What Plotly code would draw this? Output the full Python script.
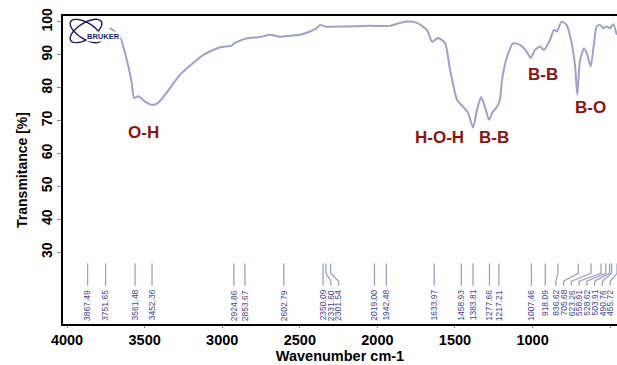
import numpy as np
import plotly.graph_objects as go

# ---------------- data ----------------
wavenumber = [3725, 3700, 3659, 3615, 3583, 3568, 3542, 3497, 3454, 3413, 3358, 3272, 3188,
              3122, 3014, 2939, 2924, 2842, 2756, 2692, 2628, 2563, 2499, 2434, 2391, 2370,
              2338, 2222, 2048, 1919, 1855, 1803, 1745, 1680, 1648, 1609, 1564, 1532, 1487,
              1448, 1416, 1384, 1358, 1332, 1307, 1281, 1255, 1229, 1210, 1197, 1167, 1126,
              1081, 1038, 1012, 985, 952, 927, 888, 862, 843, 813, 781, 755, 727, 712, 695,
              669, 647, 626, 605, 587, 566, 544, 522, 501, 480, 458]
transmittance = [98.1, 97.4, 95.5, 88.5, 81.4, 76.9, 77.4, 75.8, 74.8, 75.4, 78.5, 84.0, 87.5,
                 90.0, 92.3, 92.8, 93.5, 95.0, 95.4, 96.1, 95.5, 95.8, 96.1, 97.1, 98.1, 99.1,
                 98.6, 98.6, 98.8, 98.8, 99.7, 100.1, 99.7, 97.5, 94.0, 95.1, 93.6, 85.5, 76.4,
                 74.2, 72.4, 67.9, 73.3, 77.2, 74.2, 70.3, 72.8, 74.2, 76.5, 82.4, 89.0, 93.5,
                 93.0, 91.0, 89.0, 91.5, 92.5, 91.5, 94.5, 97.6, 97.1, 100.1, 99.1, 95.0, 87.0,
                 77.9, 88.0, 92.0, 90.0, 86.5, 93.0, 98.6, 99.1, 98.1, 98.6, 98.1, 99.3, 96.1]

peaks = [3867.49, 3751.65, 3561.48, 3452.36, 2924.86, 2853.67, 2602.79, 2350.09, 2331.60,
         2301.54, 2019.00, 1942.48, 1633.97, 1458.93, 1383.81, 1277.66, 1217.21, 1007.46,
         918.09, 836.62, 705.68, 623.26, 558.91, 528.62, 503.91, 490.76, 455.72]

band_labels = ["O-H", "H-O-H", "B-B", "B-B", "B-O"]
band_x = [3510, 1597, 1249, 933, 628]
band_y = [66.4, 64.8, 64.8, 83.9, 73.9]

x_ticks = [4000, 3500, 3000, 2500, 2000, 1500, 1000, 500]
y_ticks = [30, 40, 50, 60, 70, 80, 90, 100]

# ---------------- layout geometry ----------------
W, H = 617, 365
ML, MT, MB, MR = 63, 16, 41, 0
XR = [4026, 456]
YR = [8.2, 101.8]
FONT = "Arial, Liberation Sans, sans-serif"
CURVE = "#a0a0c8"

fig = go.Figure()
fig.add_trace(go.Scatter(x=wavenumber, y=transmittance, mode="lines",
                         line=dict(color=CURVE, width=2, shape="spline", smoothing=0.6),
                         hoverinfo="skip", showlegend=False))

# ---- peak table: spread labels so they do not overlap ----
gap, right_bound = 50, 500
pk = sorted(peaks, reverse=True)
pos = []
for i, p in enumerate(pk):
    pos.append(p if i == 0 else min(p, pos[-1] - gap))
pos[-1] = max(pos[-1], right_bound)
for i in range(len(pos) - 2, -1, -1):
    pos[i] = max(pos[i], pos[i + 1] + gap)

y_top, y_b1, y_b2, y_bot, y_lab = 26.6, 23.6, 21.2, 19.8, 19.2
for p, q in zip(pk, pos):
    fig.add_trace(go.Scatter(x=[p, p, q, q], y=[y_top, y_b1, y_b2, y_bot], mode="lines",
                             line=dict(color="#a0a0c4", width=1.3),
                             hoverinfo="skip", showlegend=False))
    fig.add_annotation(x=q, y=y_lab, text=f"{p:.2f}", textangle=-90, showarrow=False,
                       xanchor="center", yanchor="top",
                       font=dict(family=FONT, size=8.5, color="#44448e"))

for t, bx, by in zip(band_labels, band_x, band_y):
    fig.add_annotation(x=bx, y=by, text=f"<b>{t}</b>", showarrow=False,
                       font=dict(family=FONT, size=17, color="#8b1515"))

# ---- Bruker logo (decoration, in paper coords) ----
pw, ph = W - ML - MR, H - MT - MB
def paper(px, py):
    return (px - ML) / pw, 1 - (py - MT) / ph
cx, cy = 86, 31
for ang in (32, -32):
    th = np.linspace(0, 2 * np.pi, 40)
    a, b = 18, 8
    r = np.deg2rad(ang)
    xs = cx + a * np.cos(th) * np.cos(r) - b * np.sin(th) * np.sin(r)
    ys = cy + a * np.cos(th) * np.sin(r) + b * np.sin(th) * np.cos(r)
    pts = [paper(x, y) for x, y in zip(xs, ys)]
    path = "M " + " L ".join(f"{u:.4f},{v:.4f}" for u, v in pts) + " Z"
    fig.add_shape(type="path", path=path, xref="paper", yref="paper",
                  line=dict(color="#1c1c5c", width=1.4))
lx, ly = paper(cx, cy)
fig.add_annotation(x=lx, y=ly, xref="paper", yref="paper", text="<b>BRUKER</b>",
                   showarrow=False, bgcolor="white", borderpad=0,
                   font=dict(family=FONT, size=7.5, color="#1c1c6c"))

fig.update_layout(
    width=W, height=H, margin=dict(l=ML, r=MR, t=MT, b=MB),
    plot_bgcolor="white", paper_bgcolor="white", showlegend=False,
    font=dict(family=FONT, color="black"),
)
fig.update_xaxes(range=XR, tickvals=x_ticks, ticktext=[f"<b>{v}</b>" for v in x_ticks],
                 tickfont=dict(size=14.5), showgrid=False, zeroline=False,
                 showline=True, linecolor="black", linewidth=1.5, mirror=True,
                 ticks="outside", ticklen=2, tickcolor="#888888",
                 title=dict(text="<b>Wavenumber cm-1</b>", font=dict(size=14.5), standoff=4))
fig.update_yaxes(range=YR, tickvals=y_ticks, ticktext=[f"<b>{v}</b>" for v in y_ticks],
                 tickangle=-90, tickfont=dict(size=14), showgrid=False, zeroline=False,
                 showline=True, linecolor="black", linewidth=1.5,
                 ticks="outside", ticklen=4, tickcolor="#888888",
                 title=dict(text="<b>Transmitance [%]</b>", font=dict(size=14), standoff=8))

fig.write_html("out.html")
